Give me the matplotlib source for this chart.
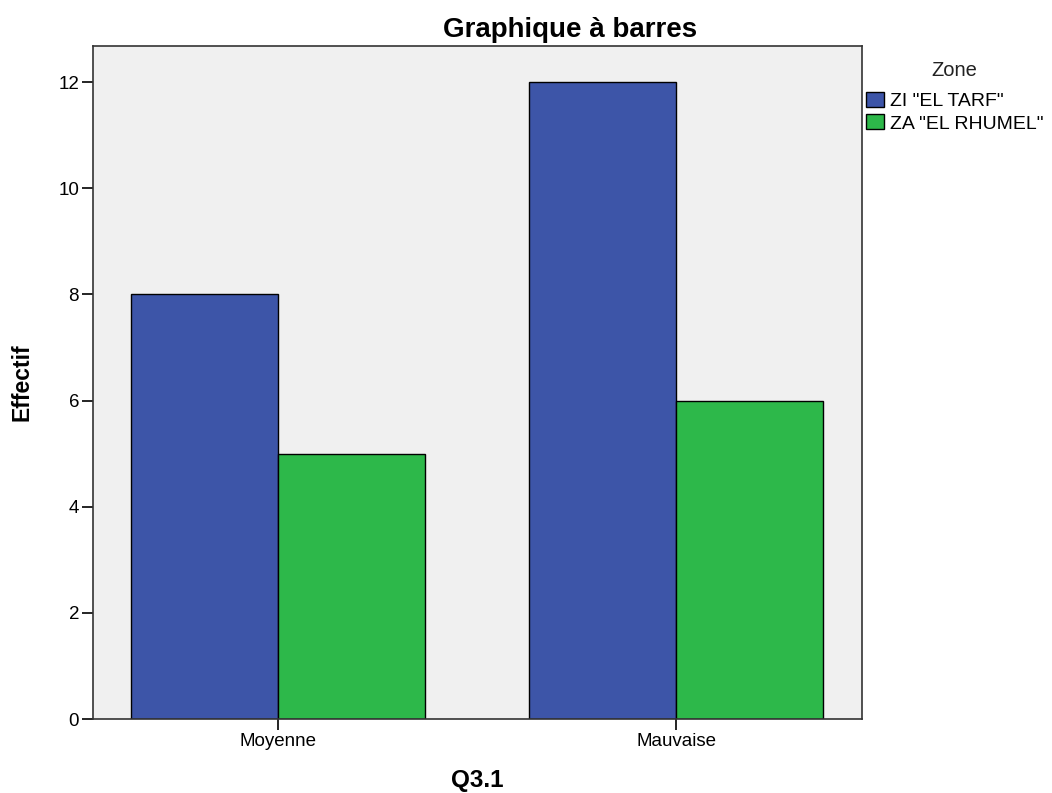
import matplotlib.pyplot as plt
import numpy as np

plt.rcParams['font.family'] = ['Liberation Sans', 'DejaVu Sans']

# Données
categories = ['Moyenne', 'Mauvaise']
zones = ['ZI "EL TARF"', 'ZA "EL RHUMEL"']
effectif_tarf = [8, 12]
effectif_rhumel = [5, 6]

couleurs = ['#3d55a8', '#2db84a']

fig = plt.figure(figsize=(10.52, 7.93), dpi=100)
ax = fig.add_axes([0.0884, 0.0933, 0.7310, 0.8487])
ax.set_facecolor('#f0f0f0')

x = np.arange(len(categories))
w = 0.37
ax.bar(x - w / 2, effectif_tarf, w, color=couleurs[0], edgecolor='black', linewidth=1, label=zones[0])
ax.bar(x + w / 2, effectif_rhumel, w, color=couleurs[1], edgecolor='black', linewidth=1, label=zones[1])

ax.set_xlim(-0.465, 1.467)
ax.set_ylim(0, 12.68)
ax.set_yticks(range(0, 13, 2))
ax.set_xticks(x)
ax.set_xticklabels(categories)
ax.tick_params(axis='both', labelsize=13.5, length=8, width=1.2, pad=2, colors='black')
for s in ax.spines.values():
    s.set_linewidth(1.2)
    s.set_color('#333333')

# Titres
fig.text(570 / 1052, 1 - 30 / 793, 'Graphique à barres', fontsize=20, fontweight='bold',
         ha='center', va='center')
fig.text(477 / 1052, 1 - 780 / 793, 'Q3.1', fontsize=17.5, fontweight='bold', ha='center', va='center')
fig.text(22 / 1052, 1 - 382 / 793, 'Effectif', fontsize=16.5, fontweight='bold', rotation=90,
         ha='center', va='center')

# Légende
fig.text(954 / 1052, 1 - 71 / 793, 'Zone', fontsize=14.5, ha='center', va='center', color='#222222')
leg = fig.legend(loc='upper left', bbox_to_anchor=(866 / 1052, 1 - 92 / 793),
                 frameon=False, fontsize=14, handlelength=0.9,
                 handleheight=0.8, handletextpad=0.35, labelspacing=0.22,
                 borderpad=0, borderaxespad=0)
for h in leg.legend_handles:
    h.set_edgecolor('black')

fig.savefig('out.png', dpi=100)
